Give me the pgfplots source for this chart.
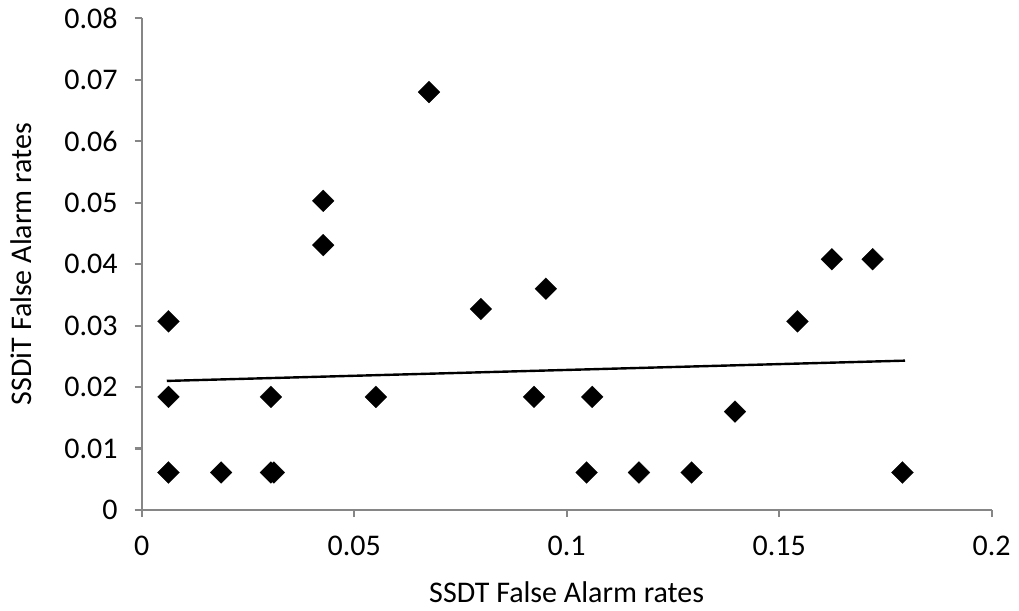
\documentclass[border=0pt]{standalone}
\usepackage{fontspec}
\setmainfont{Carlito}
\usepackage{pgfplots}
\pgfplotsset{compat=1.18}
\definecolor{axgray}{RGB}{134,134,134}
\begin{document}
\begin{tikzpicture}
\useasboundingbox (-141.7bp,-101bp) rectangle (877.3bp,510bp);
\begin{axis}[
  at={(0bp,0bp)}, anchor=south west,
  scale only axis, width=850bp, height=491.7bp,
  xmin=0, xmax=0.2, ymin=0, ymax=0.08,
  axis lines=left,
  axis line style={-, draw=axgray, line width=2.2bp},
  every tick/.style={draw=axgray, line width=2.2bp},
  tick align=outside, major tick length=7bp,
  xtick={0,0.05,0.1,0.15,0.2},
  xticklabels={0,0.05,0.1,0.15,0.2},
  ytick={0,0.01,0.02,0.03,0.04,0.05,0.06,0.07,0.08},
  yticklabels={0,0.01,0.02,0.03,0.04,0.05,0.06,0.07,0.08},
  scaled ticks=false,
  font=\fontsize{30bp}{36bp}\selectfont,
  xticklabel style={anchor=north, inner sep=0pt, yshift=-19bp},
  yticklabel style={anchor=east, inner sep=0pt, xshift=-17bp},
  xlabel={SSDT False Alarm rates},
  ylabel={SSDiT False Alarm rates},
  xlabel style={at={(axis description cs:0.5,-0.1668)}, anchor=center},
  ylabel style={at={(axis description cs:-0.142,0.5)}, anchor=center},
  clip=false,
]
\addplot[only marks, mark=square*, mark size=7.8pt, mark options={rotate=45, fill=black, draw=black, line width=0.1pt}] coordinates {
(0.0063,0.0061) (0.0063,0.0184) (0.0063,0.0307) (0.0187,0.0061)
(0.0304,0.0061) (0.0311,0.0061) (0.0304,0.0184) (0.0427,0.0431)
(0.0427,0.0503) (0.0551,0.0184) (0.0676,0.0680) (0.0798,0.0327)
(0.0923,0.0184) (0.0951,0.0360) (0.1047,0.0061) (0.1060,0.0184)
(0.1170,0.0061) (0.1294,0.0061) (0.1396,0.0160) (0.1543,0.0307)
(0.1624,0.0408) (0.1720,0.0408) (0.1790,0.0061)
};
\addplot[black, line width=2.4bp, no marks] coordinates {(0.0059,0.0210) (0.1796,0.0243)};
\end{axis}
\end{tikzpicture}
\end{document}
